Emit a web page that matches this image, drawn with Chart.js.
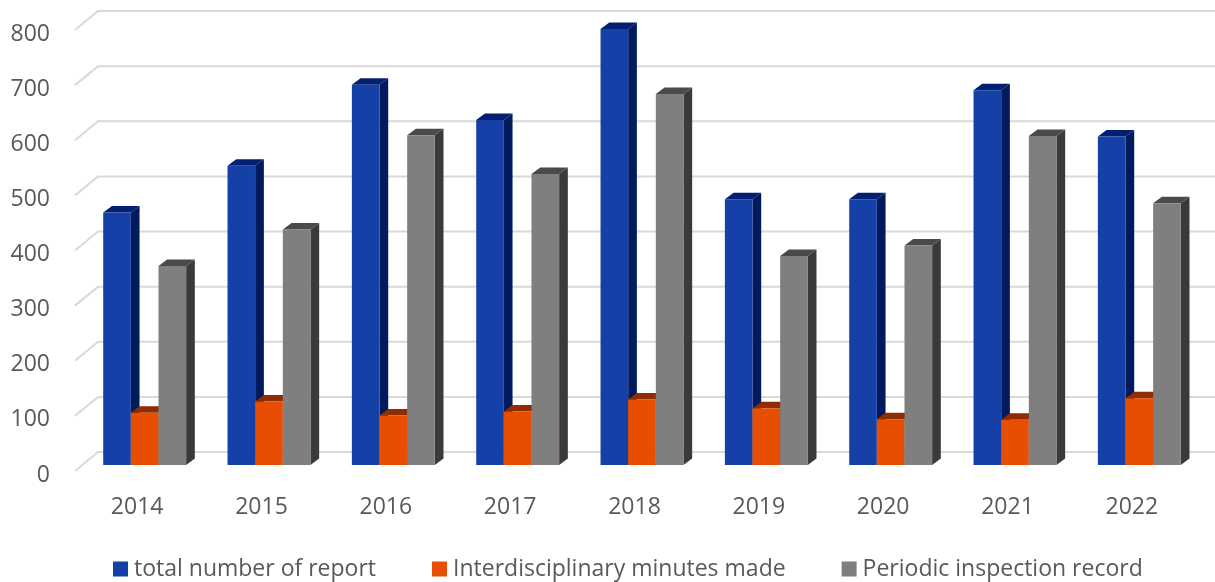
<!DOCTYPE html>
<html><head><meta charset="utf-8">
<style>html,body{margin:0;padding:0;background:#fff}canvas{display:block;filter:blur(.5px)}</style>
<script src="https://cdn.jsdelivr.net/npm/chart.js@4"></script></head>
<body><canvas id="c" width="1215" height="582"></canvas>
<script>
const categories=['2014','2015','2016','2017','2018','2019','2020','2021','2022'];
const totalReports=[458,543,690,626,791,482,482,680,596];
const minutesMade=[95,115,90,97,119,103,83,82,121];
const inspectionRecords=[361,427,598,528,673,379,398,597,475];
const yTicks=[0,100,200,300,400,500,600,700,800];
const textColor='#595959', font='"Open Sans"';
const styles=[
 {front:'#1440a8',side:'#001a5c',top:'#031f72'},
 {front:'#e84e02',side:'#8a2b00',top:'#8f2d00'},
 {front:'#7f7f7f',side:'#3a3a3a',top:'#4a4a4a'}];
const DX=7.5,DY=-10,SX=8.7,SY=-6.5,TIP=-4,WALLX=23,WALLY=-19;
const plugin3d={id:'plugin3d',
 beforeDatasetsDraw(chart){
  const {ctx,scales:{y},chartArea:a}=chart;
  ctx.save();ctx.strokeStyle='#d9d9d9';ctx.lineWidth=2;
  yTicks.forEach(v=>{const p=y.getPixelForValue(v)+TIP;
   ctx.beginPath();ctx.moveTo(a.left,p);ctx.lineTo(a.left+WALLX,p+WALLY);ctx.lineTo(chart.width,p+WALLY);ctx.stroke();});
  ctx.restore();
 },
 beforeDatasetDraw(){return false;},
 afterDatasetsDraw(chart){
  const ctx=chart.ctx;
  chart.data.datasets.forEach((d,i)=>{
   const meta=chart.getDatasetMeta(i),s=styles[i];
   ctx.save();ctx.translate(DX,DY);
   meta.data.forEach(b=>{
    const l=b.x-b.width/2,r=b.x+b.width/2,t=b.y,bot=b.base;
    ctx.fillStyle=s.side;ctx.beginPath();ctx.moveTo(r,t);ctx.lineTo(r+SX,t+SY);ctx.lineTo(r+SX,bot+SY);ctx.lineTo(r,bot);ctx.closePath();ctx.fill();
    ctx.fillStyle=s.top;ctx.beginPath();ctx.moveTo(l,t);ctx.lineTo(l+SX,t+SY);ctx.lineTo(r+SX,t+SY);ctx.lineTo(r,t);ctx.closePath();ctx.fill();
   });
   meta.controller.draw();
   ctx.restore();
  });
 },
 afterDraw(chart){
  const ctx=chart.ctx;ctx.save();
  ctx.font='23px '+font;ctx.textBaseline='middle';ctx.textAlign='left';
  let x=113;const cy=569;
  chart.data.datasets.forEach((d,i)=>{
   ctx.fillStyle=styles[i].front;ctx.fillRect(x,cy-7.5,15,15);
   ctx.fillStyle=textColor;ctx.fillText(d.label,x+21,cy);
   x+=21+ctx.measureText(d.label).width+56;
  });
  ctx.restore();
 }};
new Chart(document.getElementById('c'),{
 type:'bar',
 data:{labels:categories,datasets:[
  {label:'total number of report',data:totalReports,backgroundColor:styles[0].front},
  {label:'Interdisciplinary minutes made',data:minutesMade,backgroundColor:styles[1].front},
  {label:'Periodic inspection record',data:inspectionRecords,backgroundColor:styles[2].front}]},
 options:{responsive:false,animation:false,
  layout:{padding:{top:34,right:21,bottom:0,left:0}},
  datasets:{bar:{categoryPercentage:0.667,barPercentage:1}},
  plugins:{legend:{display:false},tooltip:{enabled:false}},
  scales:{
   x:{grid:{display:false},border:{display:false},
      ticks:{color:textColor,font:{family:font,size:23},padding:11,maxRotation:0},
      afterFit(s){s.height=107;}},
   y:{min:0,max:800,grid:{display:false},border:{display:false},
      ticks:{stepSize:100,color:textColor,font:{family:font,size:23},padding:17},
      afterFit(s){s.width=75;}}
  }},
 plugins:[plugin3d]});
</script></body></html>
